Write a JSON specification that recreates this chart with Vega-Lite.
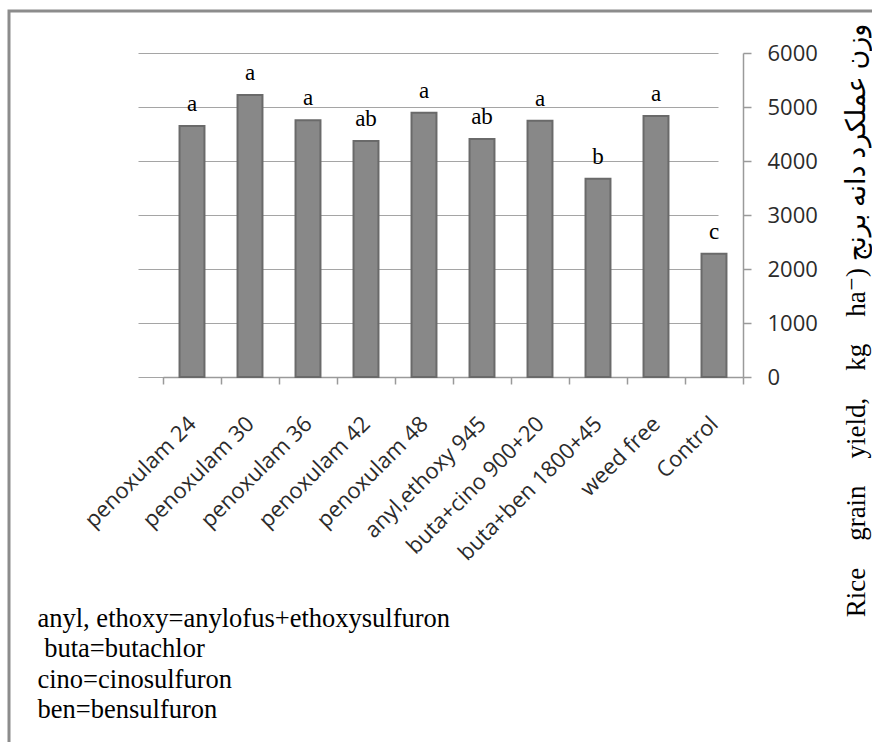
{
  "$schema": "https://vega.github.io/schema/vega-lite/v6.json",
  "autosize": {"type": "none"},
  "padding": {"left": 9, "top": 11, "right": 0, "bottom": 0},
  "width": 863,
  "height": 731,
  "background": "white",
  "config": {"view": {"stroke": "#8c8c8c", "strokeWidth": 3, "strokeDash": [863, 1594, 731]}},
  "data": {
    "values": [
      {"treatment": "penoxulam 24", "yield": 4648, "group": "a"},
      {"treatment": "penoxulam 30", "yield": 5222, "group": "a"},
      {"treatment": "penoxulam 36", "yield": 4753, "group": "a"},
      {"treatment": "penoxulam 42", "yield": 4370, "group": "ab"},
      {"treatment": "penoxulam 48", "yield": 4895, "group": "a"},
      {"treatment": "anyl,ethoxy 945", "yield": 4407, "group": "ab"},
      {"treatment": "buta+cino 900+20", "yield": 4747, "group": "a"},
      {"treatment": "buta+ben 1800+45", "yield": 3673, "group": "b"},
      {"treatment": "weed free", "yield": 4833, "group": "a"},
      {"treatment": "Control", "yield": 2284, "group": "c"}
    ]
  },
  "encoding": {
    "x": {
      "field": "treatment",
      "type": "nominal",
      "sort": null,
      "scale": {"paddingInner": 0, "paddingOuter": 0, "range": [154, 734]},
      "axis": {
        "offset": -365,
        "title": ["anyl, ethoxy=anylofus+ethoxysulfuron", "\u200b\u00a0buta=butachlor", "cino=cinosulfuron", "ben=bensulfuron"],
        "titleX": 28,
        "titleY": 228,
        "titleAlign": "left",
        "titleAnchor": "start",
        "titleBaseline": "top",
        "titleFont": "Liberation Serif",
        "titleFontSize": 26.5,
        "titleFontWeight": "normal",
        "titleColor": "#000000",
        "titleLineHeight": 30.5,
        "titleLimit": 800,
        "tickBand": "extent",
        "labelAngle": -45,
        "labelAlign": "right",
        "labelBaseline": "middle",
        "labelPadding": 36,
        "labelFont": "Open Sans",
        "labelFontSize": 22,
        "labelColor": "#2b2b2b",
        "labelOverlap": false,
        "labelLimit": 400,
        "domainColor": "#9a9a9a",
        "domainWidth": 1.5,
        "tickColor": "#9a9a9a",
        "tickWidth": 1.5,
        "tickSize": 7,
        "grid": false
      }
    },
    "y": {
      "field": "yield",
      "type": "quantitative",
      "scale": {"domain": [0, 6000], "nice": false, "range": [366, 42]},
      "axis": {
        "orient": "right",
        "offset": -129,
        "values": [0, 1000, 2000, 3000, 4000, 5000, 6000],
        "format": "d",
        "title": "Rice \u00a0\u00a0\u00a0grain \u00a0\u00a0\u00a0yield, \u00a0\u00a0\u00a0kg \u00a0\u00a0\u00a0ha⁻) وزن عملکرد دانه برنج",
        "titleAngle": 270,
        "titleX": 113,
        "titleY": 309,
        "titleAlign": "center",
        "titleBaseline": "middle",
        "titleFont": "Liberation Serif, DejaVu Sans",
        "titleFontSize": 27,
        "titleFontWeight": "normal",
        "titleColor": "#000000",
        "titleLimit": 800,
        "labelFont": "Open Sans",
        "labelFontSize": 22,
        "labelColor": "#2b2b2b",
        "labelPadding": 16,
        "labelAlign": "left",
        "labelBaseline": "middle",
        "domainColor": "#9a9a9a",
        "domainWidth": 1.5,
        "tickColor": "#9a9a9a",
        "tickWidth": 1.5,
        "tickSize": 8,
        "grid": true,
        "gridColor": "#a5a5a5",
        "gridWidth": 1.2
      }
    }
  },
  "layer": [
    {
      "mark": {"type": "bar", "width": {"band": 0.43}, "fill": "#888888", "stroke": "#6a6a6a", "strokeWidth": 2}
    },
    {
      "mark": {"type": "text", "font": "Liberation Serif", "fontSize": 23, "color": "#000000", "baseline": "middle", "dy": -22},
      "encoding": {"text": {"field": "group"}}
    }
  ]
}
